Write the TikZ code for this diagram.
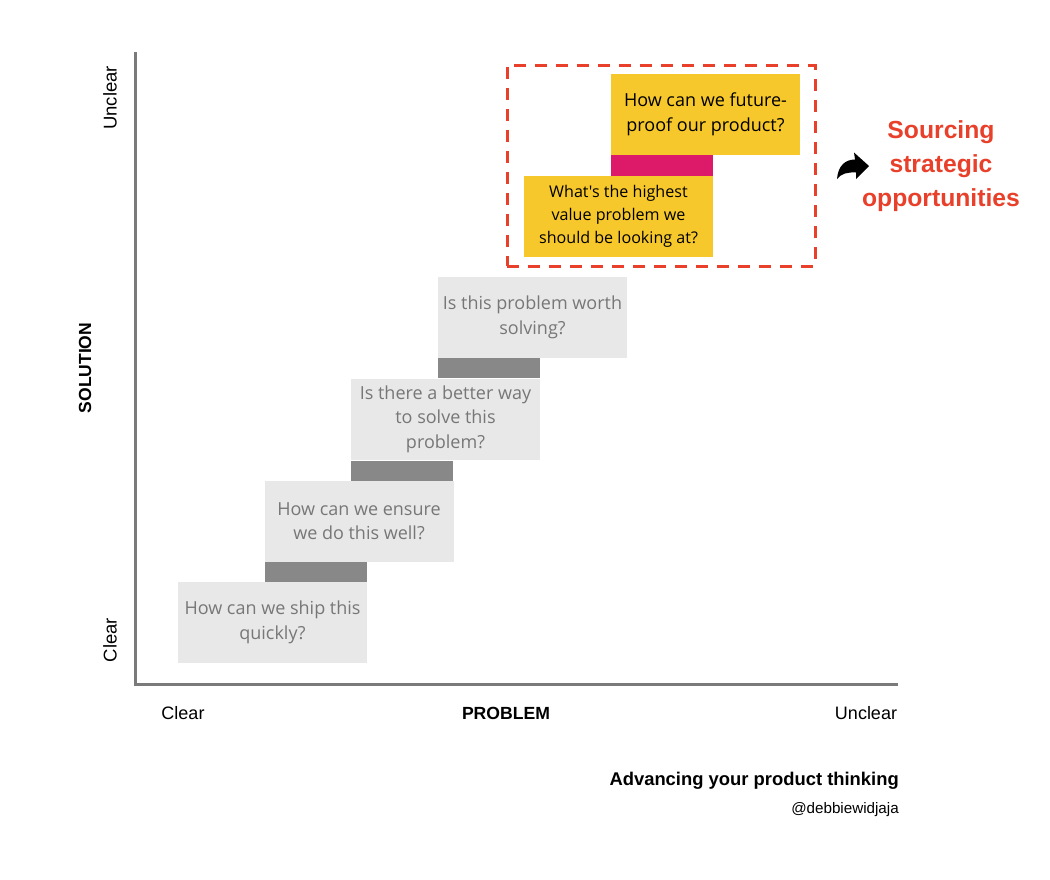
\documentclass[tikz,border=0pt]{standalone}
\usepackage{fontspec}
\setmainfont{Liberation Sans}
\newfontfamily\boxfont{Open Sans}
\usetikzlibrary{positioning}
\definecolor{boxgray}{HTML}{E8E8E8}
\definecolor{bargray}{HTML}{888888}
\definecolor{txtgray}{HTML}{777777}
\definecolor{axisgray}{HTML}{7A7A7A}
\definecolor{ylw}{HTML}{F7C82B}
\definecolor{mgn}{HTML}{DD1A6A}
\definecolor{redo}{HTML}{E8402A}
\tikzset{
  graybox/.style={fill=boxgray, draw=none, minimum width=189pt, minimum height=81pt, inner sep=0pt, align=center, text=txtgray, font=\boxfont\fontsize{18}{24.5}\selectfont},
  ylwbox/.style={fill=ylw, draw=none, minimum width=189pt, minimum height=81pt, inner sep=0pt, align=center, text=black, font=\boxfont\fontsize{18}{24.5}\selectfont},
  barg/.style={fill=bargray, draw=none},
  axis/.style={draw=axisgray, line width=3pt},
  lbl/.style={font=\fontsize{18}{20}\selectfont, inner sep=0pt}
}
\begin{document}
\begin{tikzpicture}[x=1pt,y=-1pt]
\useasboundingbox (0,0) rectangle (1050,879);
% axes
\coordinate (ytop) at (135,52);
\coordinate (orig) at (135,684);
\coordinate (xend) at (898,684);
\draw[axis] (ytop) -- (orig) -- (xend);
% axis labels
\node[lbl, rotate=90, font=\fontsize{18.5}{20}\selectfont] (yunclear) at (110,98) {Unclear};
\node[lbl, rotate=90, font=\fontsize{18.5}{20}\selectfont] (yclear) at (110,640) {Clear};
\node[lbl, rotate=90, font=\bfseries\fontsize{17.5}{20}\selectfont] (sol) at (85,368) {SOLUTION};
\node[lbl] (xclear) at (183,713) {Clear};
\node[lbl, font=\bfseries\fontsize{17.6}{20}\selectfont] (prob) at (506,713) {PROBLEM};
\node[lbl] (xunclear) at (866,713) {Unclear};
% bars
\fill[barg] (265,562) rectangle (367,582);
\fill[barg] (351,461) rectangle (453,481);
\fill[barg] (438,358) rectangle (540,378);
\fill[mgn] (611,155) rectangle (713,176);
% boxes
\node[graybox] (b1) at (272.5,622.5) {How can we ship this\\quickly?};
\node[graybox] (b2) at (359,521) {How can we ensure\\we do this well?};
\node[graybox] (b3) at (445.5,419) {Is there a better way\\to solve this\\problem?};
\node[graybox] (b4) at (532.5,317.5) {Is this problem worth\\solving?};
\node[ylwbox, font=\boxfont\fontsize{16.1}{23}\selectfont] (y1) at (618.5,216.5) {What's the highest\\value problem we\\should be looking at?};
\node[ylwbox] (y2) at (705.5,114.5) {How can we future-\\proof our product?};
% dashed frame
\node[draw=redo, line width=3pt, dash pattern=on 12pt off 9pt, minimum width=308pt, minimum height=201pt, inner sep=0pt] (frame) at (661,165.5) {};
% arrow
\fill[black] (837,179) .. controls (838,166) and (845,159.5) .. (855,159.5) -- (854,152.5) -- (869,166) -- (856,179) -- (856,172.5) .. controls (848,172) and (841,173.5) .. (837,179) -- cycle;
% label
\node[text=redo, font=\bfseries\fontsize{24.7}{34}\selectfont, align=center, inner sep=0pt] (src) at (941,166) {Sourcing\\strategic\\opportunities};
% footer
\node[anchor=east, inner sep=0pt, font=\bfseries\fontsize{18.4}{20}\selectfont] (title) at (899,781) {Advancing your product thinking};
\node[anchor=east, inner sep=0pt, font=\fontsize{15.2}{16}\selectfont] (handle) at (899,810) {@debbiewidjaja};
\end{tikzpicture}
\end{document}
